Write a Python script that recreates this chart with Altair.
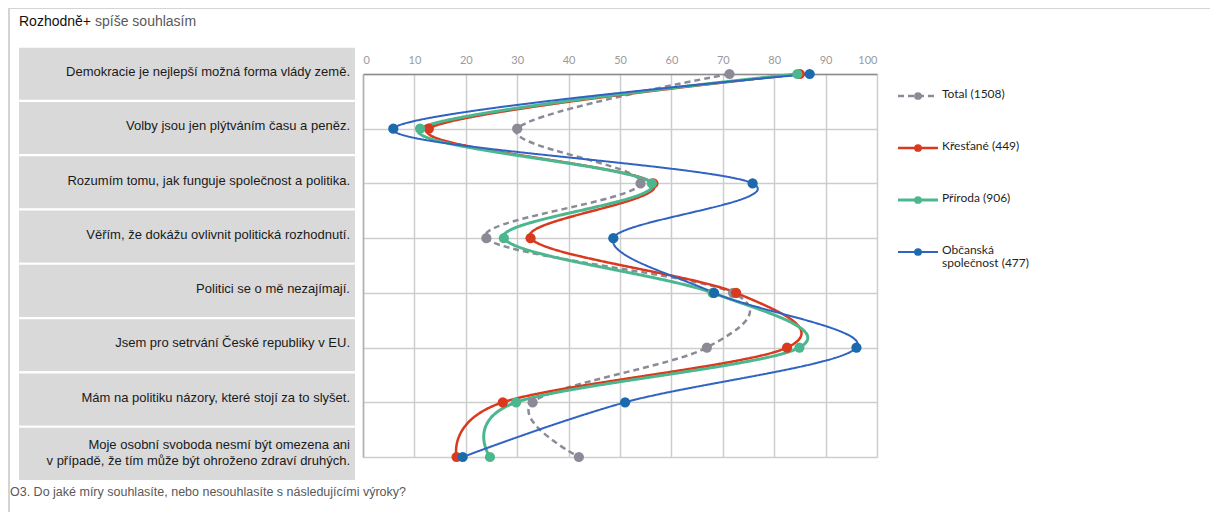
import altair as alt
import pandas as pd

statements = [
    "Demokracie je nejlepší možná forma vlády země.",
    "Volby jsou jen plýtváním času a peněz.",
    "Rozumím tomu, jak funguje společnost a politika.",
    "Věřím, že dokážu ovlivnit politická rozhodnutí.",
    "Politici se o mě nezajímají.",
    "Jsem pro setrvání České republiky v EU.",
    "Mám na politiku názory, které stojí za to slyšet.",
    "Moje osobní svoboda nesmí být omezena ani\nv případě, že tím může být ohroženo zdraví druhých.",
]

series_names = ["Total (1508)", "Křesťané (449)", "Příroda (906)", "Občanská\nspolečnost (477)"]
total = [71.3, 30.0, 54.0, 24.0, 72.0, 66.9, 33.0, 42.0]
krestane = [85.0, 12.8, 56.5, 32.6, 72.6, 82.5, 27.2, 18.2]
priroda = [84.5, 11.1, 56.2, 27.4, 68.0, 84.9, 29.8, 24.7]
obcanska = [86.9, 5.9, 75.8, 48.7, 68.3, 96.0, 51.0, 19.4]
series_values = [total, krestane, priroda, obcanska]

ticks_x = list(range(0, 101, 10))

title_main = "Rozhodně+"
title_rest = "spíše souhlasím"
note = "O3. Do jaké míry souhlasíte, nebo nesouhlasíte s následujícími výroky?"

line_colors = ["#8b8b97", "#d9391c", "#4cb78f", "#3063c2"]
point_colors = ["#8b8b97", "#d9391c", "#4cb78f", "#1b6aae"]
widths = [2.5, 2.5, 3, 2]
dashes = [[6, 4], [1, 0], [1, 0], [1, 0]]

W, H = 514, 383
n = len(statements)

xscale = alt.Scale(domain=[0, 100], nice=False, zero=False)
xaxis = alt.Axis(
    orient="top", values=ticks_x, grid=True, gridColor="#cdcdcd", gridWidth=1.5,
    domainColor="#8c8c8c", domainWidth=1.5, ticks=False, labelPadding=9,
    labelFont="Lato", labelFontSize=11, labelColor="#9a9a9a", title=None,
)
yscale = alt.Scale(domain=[0, n - 1], reverse=True, nice=False, zero=False)
yaxis = alt.Axis(values=list(range(n)), grid=True, gridColor="#cdcdcd", gridWidth=1.5,
                 labels=False, ticks=False, domainColor="#b0b0b0", domainWidth=1.5, title=None)


def X():
    return alt.X("value:Q", scale=xscale, axis=xaxis)


def Y(field="idx:Q"):
    return alt.Y(field, scale=yscale, axis=yaxis)


cat_df = pd.DataFrame({"idx": list(range(n)), "label": statements})

one = alt.Data(values=[{"a": 1}])

frame_left = alt.Chart(one).mark_rule(color="#d4d4d4", strokeWidth=2).encode(
    x=alt.value(-354), y=alt.value(-66), y2=alt.value(H + 60))
frame_top = alt.Chart(one).mark_rule(color="#d4d4d4", strokeWidth=2).encode(
    x=alt.value(-354), x2=alt.value(W + 340), y=alt.value(-66))

# label boxes (rows step slightly tighter than the point grid, as in the original)
boxes = alt.Chart(cat_df).transform_calculate(
    y0="datum.idx * 0.9925 - 0.5", y1="datum.idx * 0.9925 + 0.49"
).mark_rect(color="#d9d9d9", stroke="white", strokeWidth=2).encode(
    x=alt.value(-345), x2=alt.value(-7),
    y=Y("y0:Q"), y2="y1:Q",
)

labels = alt.Chart(cat_df).transform_calculate(
    yc="datum.idx * 0.9925 - 0.02 - (length(split(datum.label, '\\n')) - 1) * 0.135"
).mark_text(
    align="right", baseline="middle", font="Liberation Sans", fontSize=13,
    color="#1a1a1a", lineBreak="\n", lineHeight=16, dy=-1,
).encode(x=alt.value(-13), y=Y("yc:Q"), text="label:N")

title1 = alt.Chart(alt.Data(values=[{"t": title_main}])).mark_text(
    align="left", baseline="middle", font="Liberation Sans", fontSize=14, color="#111111",
).encode(x=alt.value(-344), y=alt.value(-52), text="t:N")
title2 = alt.Chart(alt.Data(values=[{"t": title_rest}])).mark_text(
    align="left", baseline="middle", font="Liberation Sans", fontSize=14, color="#595959",
).encode(x=alt.value(-268), y=alt.value(-52), text="t:N")
note_t = alt.Chart(alt.Data(values=[{"t": note}])).mark_text(
    align="left", baseline="middle", font="Liberation Sans", fontSize=12.5, color="#595959",
).encode(x=alt.value(-353), y=alt.value(418), text="t:N")

layers = [frame_left, frame_top, boxes, labels, title1, title2, note_t]

for i, (name, vals) in enumerate(zip(series_names, series_values)):
    df = pd.DataFrame({"idx": list(range(n)), "value": vals, "series": name})
    ln = alt.Chart(df).mark_line(
        interpolate="cardinal", tension=0, color=line_colors[i], strokeWidth=widths[i],
        strokeDash=dashes[i],
    ).encode(x=X(), y=Y(), order="idx:Q")
    layers.append(ln)

for i, (name, vals) in enumerate(zip(series_names, series_values)):
    df = pd.DataFrame({"idx": list(range(n)), "value": vals, "series": name})
    pt = alt.Chart(df).mark_circle(size=105, opacity=1, color=point_colors[i]).encode(
        x=X(), y=Y(),
    )
    layers.append(pt)

# legend
for i, name in enumerate(series_names):
    ly = 22 + i * 52
    d = alt.Data(values=[{"label": name}])
    lr = alt.Chart(d).mark_rule(color=line_colors[i], strokeWidth=widths[i], strokeDash=dashes[i]).encode(
        x=alt.value(535), x2=alt.value(575), y=alt.value(ly))
    lp = alt.Chart(d).mark_point(filled=True, size=60, opacity=1, color=point_colors[i]).encode(
        x=alt.value(555), y=alt.value(ly))
    lt = alt.Chart(d).mark_text(align="left", baseline="top", font="Lato", fontSize=12,
                                color="#1f1f1f", lineBreak="\n", lineHeight=13, dy=-7).encode(
        x=alt.value(579), y=alt.value(ly), text="label:N")
    layers += [lr, lp, lt]

chart = alt.layer(*layers).properties(
    width=W, height=H,
    padding={"left": 355, "top": 66, "right": 333, "bottom": 55},
    autosize=alt.AutoSizeParams(type="none"),
).configure_view(stroke=None).configure(background="white")

chart.save("out.html", embed_options={"renderer": "svg", "actions": False})
